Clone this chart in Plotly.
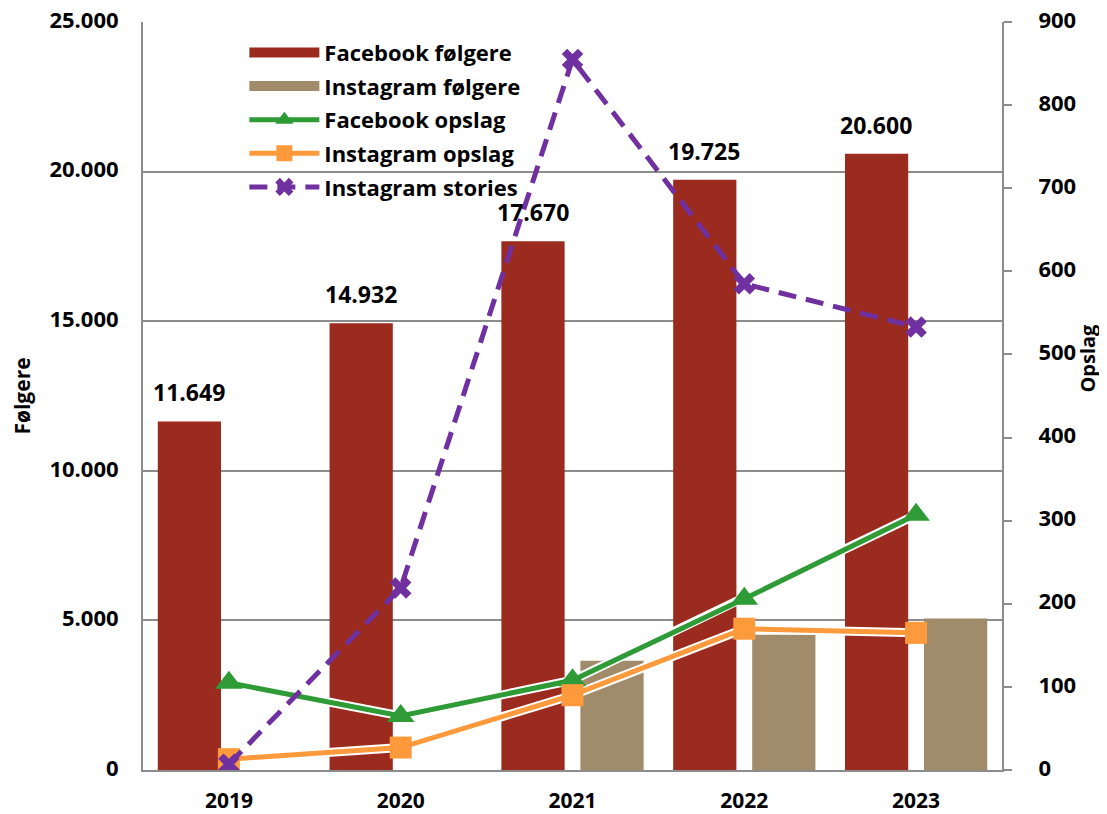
import plotly.graph_objects as go

years = ["2019", "2020", "2021", "2022", "2023"]
fb_followers = [11649, 14932, 17670, 19725, 20600]
ig_followers = [None, None, 3650, 4520, 5060]
fb_posts = [105, 65, 108, 206, 307]
ig_posts = [13, 27, 90, 170, 165]
ig_stories = [7, 219, 855, 585, 533]

left_ticks = [0, 5000, 10000, 15000, 20000, 25000]
right_ticks = [0, 100, 200, 300, 400, 500, 600, 700, 800, 900]

FONT = "Open Sans"
GRID = "#8c8c8c"
C_FB = "#9B2B1F"
C_IG = "#A08B6B"
C_GREEN = "#2E9B36"
C_ORANGE = "#FF9A3C"
C_PURPLE = "#7030A0"


def dotted(v):
    return f"{v:,}".replace(",", ".")


fig = go.Figure()

fig.add_trace(go.Bar(x=years, y=fb_followers, name="Facebook følgere",
                     marker=dict(color=C_FB, line=dict(width=0)),
                     showlegend=False, yaxis="y"))
fig.add_trace(go.Bar(x=years, y=ig_followers, name="Instagram følgere",
                     marker=dict(color=C_IG, line=dict(width=0)),
                     showlegend=False, yaxis="y"))

# legend entries for the bars drawn as wide swatches
for nm, col, grp in (("Facebook følgere", C_FB, "a"), ("Instagram følgere", C_IG, "b")):
    fig.add_trace(go.Scatter(x=[None], y=[None], mode="lines", name=nm,
                             line=dict(color=col, width=14), legendgroup=grp,
                             yaxis="y2", hoverinfo="skip"))

# white halo beneath solid lines
for vals in (fb_posts, ig_posts):
    fig.add_trace(go.Scatter(x=years, y=vals, mode="lines", yaxis="y2",
                             line=dict(color="white", width=9),
                             showlegend=False, hoverinfo="skip"))

fig.add_trace(go.Scatter(x=years, y=fb_posts, name="Facebook opslag", yaxis="y2",
                         mode="lines+markers", legendgroup="c",
                         line=dict(color=C_GREEN, width=5),
                         marker=dict(symbol="triangle-up", size=24, color=C_GREEN)))
fig.add_trace(go.Scatter(x=years, y=ig_posts, name="Instagram opslag", yaxis="y2",
                         mode="lines+markers", legendgroup="d",
                         line=dict(color=C_ORANGE, width=5),
                         marker=dict(symbol="square", size=22, color=C_ORANGE)))
fig.add_trace(go.Scatter(x=years, y=ig_stories, name="Instagram stories", yaxis="y2",
                         mode="lines+markers", legendgroup="e",
                         line=dict(color=C_PURPLE, width=5, dash="18px,10px"),
                         marker=dict(symbol="x", size=19, color=C_PURPLE)))

annotations = []
for i, v in enumerate(fb_followers):
    annotations.append(dict(x=i, y=v, xref="x", yref="y", xshift=-40, yshift=11,
                            yanchor="bottom", showarrow=False, text=dotted(v),
                            font=dict(family=FONT, size=23, color="black", weight="bold")))

# right axis title, placed a little above the middle as in the original
annotations.append(dict(x=1, y=0.55, xref="paper", yref="paper", xshift=86,
                        xanchor="center", yanchor="middle", showarrow=False,
                        textangle=-90, text="Opslag",
                        font=dict(family=FONT, size=20, color="black", weight="bold")))

# the page body adds an 8px offset, so the figure is 8px smaller on each side
fig.update_layout(
    width=1099, height=806,
    margin=dict(l=135, r=105, t=14, b=44),
    paper_bgcolor="white", plot_bgcolor="white",
    font=dict(family=FONT, size=21, color="black", weight="bold"),
    barmode="group", bargap=0.08, bargroupgap=0.2,
    showlegend=True,
    legend=dict(x=0.118, y=0.987, xanchor="left", yanchor="top",
                bgcolor="rgba(0,0,0,0)", traceorder="grouped", tracegroupgap=2,
                itemwidth=70,
                font=dict(family=FONT, size=22, color="black", weight="bold")),
    xaxis=dict(type="category", range=[-0.5, 4.5], autorange=False,
               showline=True, linecolor=GRID, linewidth=2, automargin=False,
               ticks="", showgrid=False, ticklabelstandoff=11,
               ticklabeloverflow="allow", tickfont=dict(size=21)),
    yaxis=dict(range=[0, 25000], autorange=False, tickvals=left_ticks,
               ticktext=[dotted(t) for t in left_ticks], automargin=False,
               showline=True, linecolor=GRID, linewidth=2,
               showgrid=True, gridcolor=GRID, gridwidth=2, zeroline=False,
               ticks="", ticklabelstandoff=18, ticklabeloverflow="allow",
               ticklabelshift=-2, tickfont=dict(size=22),
               title=dict(text="Følgere", standoff=21, font=dict(size=21))),
    yaxis2=dict(range=[0, 900], autorange=False, tickvals=right_ticks,
                overlaying="y", side="right", automargin=False,
                showline=True, linecolor=GRID, linewidth=2, showgrid=False,
                zeroline=False, ticks="outside", ticklen=8, tickcolor=GRID, tickwidth=2,
                ticklabelstandoff=22, ticklabeloverflow="allow",
                ticklabelshift=-2, tickfont=dict(size=22)),
    annotations=annotations,
)

fig.write_html("out.html")
